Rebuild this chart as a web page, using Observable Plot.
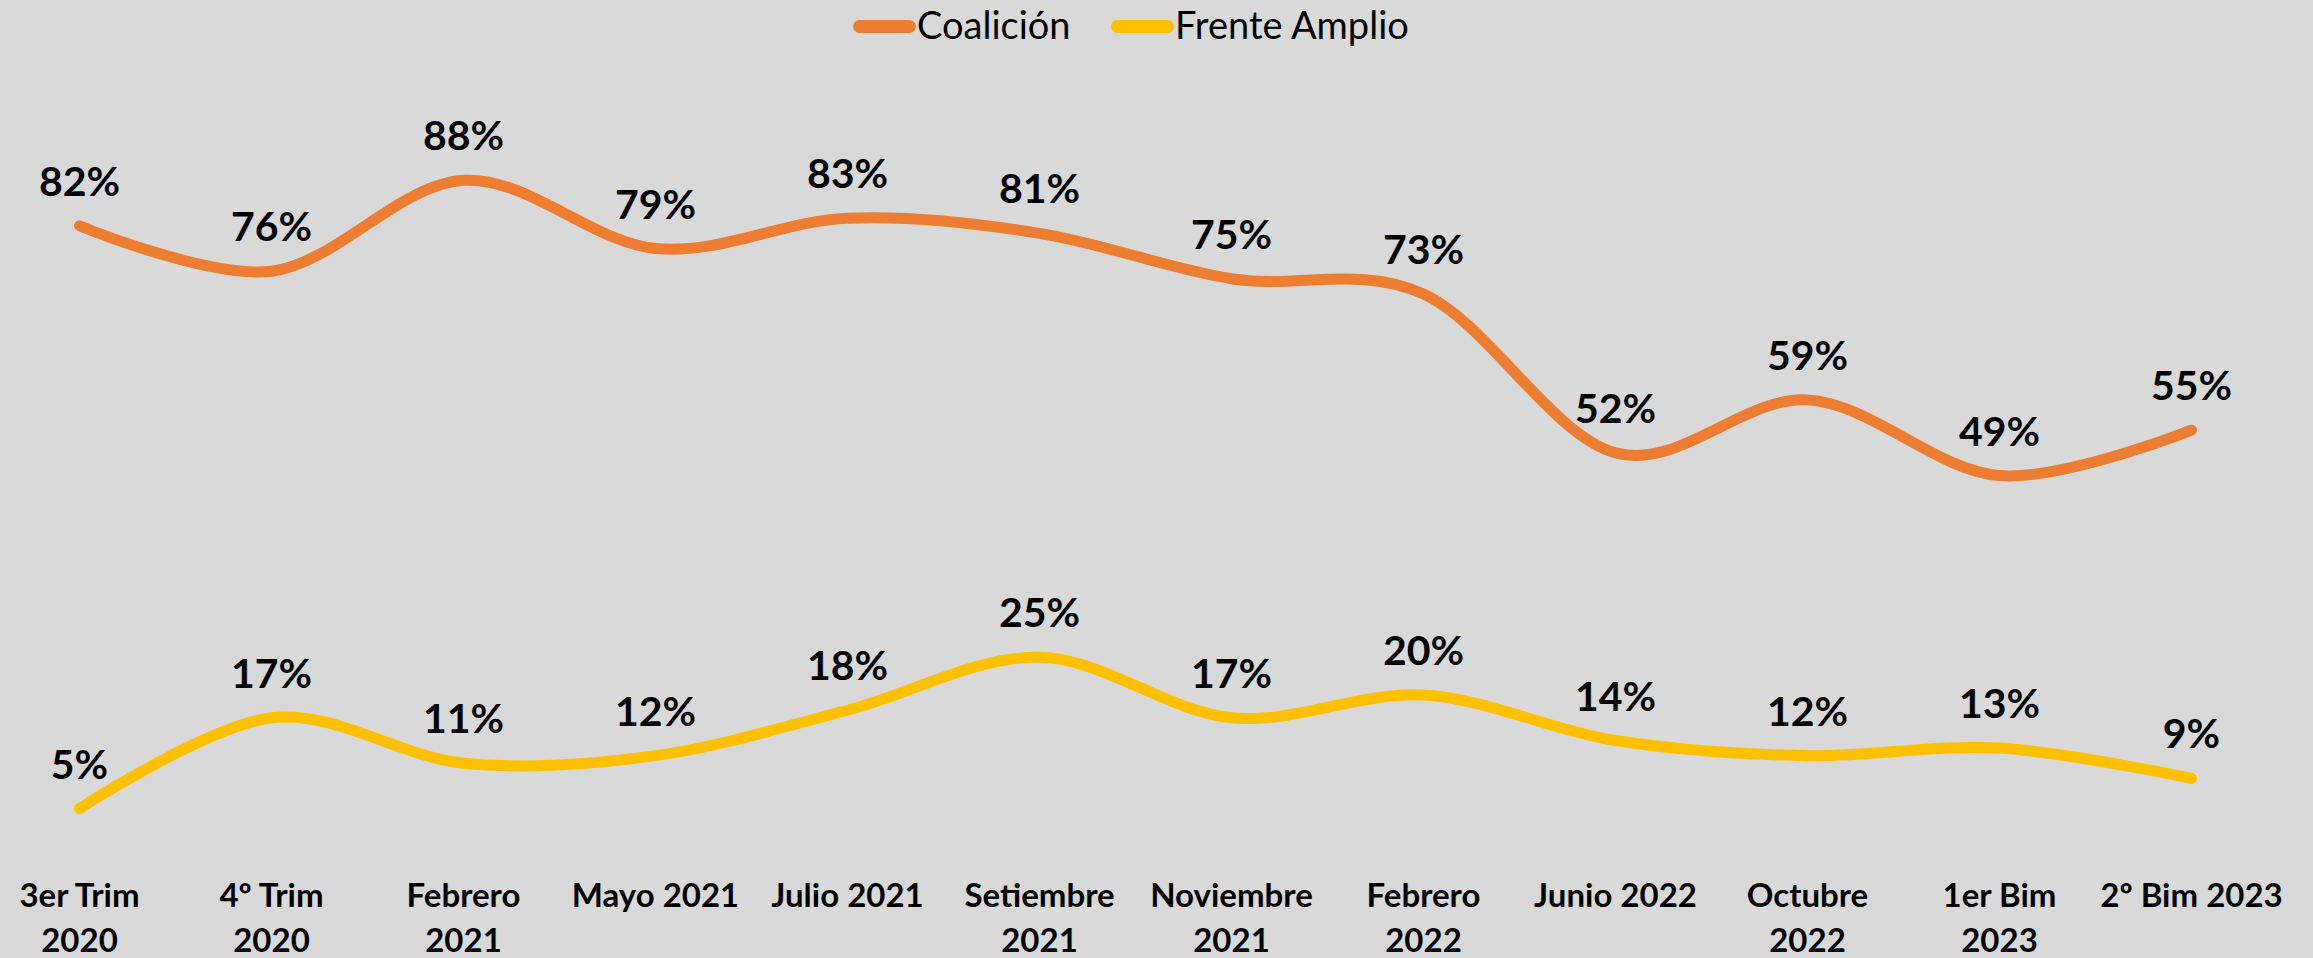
<!DOCTYPE html>
<html>
<head>
<meta charset="utf-8">
<script src="https://cdn.jsdelivr.net/npm/d3@7"></script>
<script src="https://cdn.jsdelivr.net/npm/@observablehq/plot@0.6"></script>
<style>
  html, body { margin: 0; padding: 0; background: #d9d9d9; }
  #wrap { width: 2313px; height: 958px; position: relative; background: #d9d9d9; overflow: hidden; }
  #legend { position: relative; height: 56px; width: 2313px; font-family: Lato, "Open Sans", sans-serif; font-size: 38px; color: #000; }
  .sw { position: absolute; top: 20px; width: 63px; height: 13px; border-radius: 7px; }
  .lt { position: absolute; top: 5px; line-height: 38px; white-space: nowrap; }
  #chart svg { display: block; }
</style>
</head>
<body>
<div id="wrap">
  <div id="legend"></div>
  <div id="chart"></div>
</div>
<script>
const categories = ["3er Trim 2020", "4º Trim 2020", "Febrero 2021", "Mayo 2021", "Julio 2021", "Setiembre 2021", "Noviembre 2021", "Febrero 2022", "Junio 2022", "Octubre 2022", "1er Bim 2023", "2º Bim 2023"];
const tickLabels = ["3er Trim\n2020", "4º Trim\n2020", "Febrero\n2021", "Mayo 2021", "Julio 2021", "Setiembre\n2021", "Noviembre\n2021", "Febrero\n2022", "Junio 2022", "Octubre\n2022", "1er Bim\n2023", "2º Bim 2023"];
const seriesNames = ["Coalición", "Frente Amplio"];
const coalicion = [82, 76, 88, 79, 83, 81, 75, 73, 52, 59, 49, 55];
const frenteAmplio = [5, 17, 11, 12, 18, 25, 17, 20, 14, 12, 13, 9];
const colors = ["#ED7D31", "#FFC000"];

const data = [];
categories.forEach((c, i) => {
  data.push({cat: c, serie: seriesNames[0], value: coalicion[i]});
  data.push({cat: c, serie: seriesNames[1], value: frenteAmplio[i]});
});

// legend
const legend = document.getElementById("legend");
const swatchX = [853, 1111];
seriesNames.forEach((s, i) => {
  const sw = document.createElement("div");
  sw.className = "sw";
  sw.style.left = swatchX[i] + "px";
  sw.style.background = colors[i];
  const t = document.createElement("div");
  t.className = "lt";
  t.style.left = (swatchX[i] + 64) + "px";
  t.textContent = s;
  legend.appendChild(sw);
  legend.appendChild(t);
});

const font = "Lato, 'Open Sans', sans-serif";

const chart = Plot.plot({
  width: 2313,
  height: 902,
  marginLeft: 77,
  marginRight: 121,
  marginTop: 33,
  marginBottom: 112,
  style: { background: "#d9d9d9", overflow: "visible" },
  x: { type: "point", domain: categories, padding: 0, axis: null },
  y: { domain: [0, 100], axis: null },
  color: { domain: seriesNames, range: colors },
  marks: [
    Plot.line(data, {
      x: "cat", y: "value", z: "serie", stroke: "serie",
      strokeWidth: 11, curve: "cardinal", tension: 0,
      strokeLinecap: "round", strokeLinejoin: "round"
    }),
    Plot.text(data, {
      x: "cat", y: "value", text: d => d.value + "%",
      dy: -43, fontSize: 41, fontWeight: "bold", fill: "#000",
      fontFamily: font
    }),
    Plot.text(categories, {
      x: d => d, text: (d, i) => tickLabels[i],
      frameAnchor: "bottom", lineAnchor: "top", dy: 29,
      fontSize: 33, fontWeight: "bold", lineHeight: 1.36, fill: "#000",
      fontFamily: font
    })
  ]
});
document.getElementById("chart").appendChild(chart);
</script>
</body>
</html>
